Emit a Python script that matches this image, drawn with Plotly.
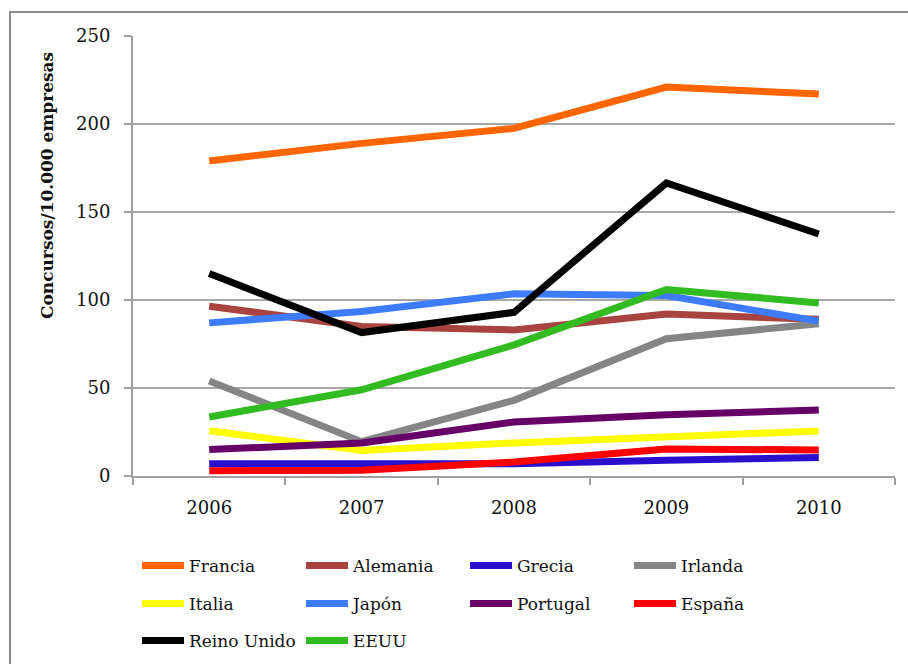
import plotly.graph_objects as go

years = ["2006", "2007", "2008", "2009", "2010"]

francia = [179, 189, 197.5, 221, 217]
alemania = [96.5, 85, 83, 92, 89]
grecia = [7, 7, 7, 9, 10.5]
irlanda = [54, 19.5, 43, 78, 86.5]
italia = [25.7, 14.5, 18.8, 22, 25.6]
japon = [87, 93.5, 103.5, 102.5, 88]
portugal = [15, 18.7, 30.7, 34.8, 37.5]
espana = [3, 3.3, 8, 15.3, 14.8]
reino_unido = [115, 81.5, 93, 166.5, 137.5]
eeuu = [33.5, 49, 74.5, 106, 98.3]

series = [
    ("Francia", francia, "#FF6600", "legend"),
    ("Alemania", alemania, "#A8433F", "legend"),
    ("Grecia", grecia, "#2A10CC", "legend"),
    ("Irlanda", irlanda, "#858585", "legend"),
    ("Italia", italia, "#FFFF00", "legend2"),
    ("Japón", japon, "#3D7BFF", "legend2"),
    ("Portugal", portugal, "#660066", "legend2"),
    ("España", espana, "#FF0000", "legend2"),
    ("Reino Unido", reino_unido, "#000000", "legend3"),
    ("EEUU", eeuu, "#33BB22", "legend3"),
]

FONT = "DejaVu Serif"
L, R, T, B = 133, 13, 36, 188
W, H = 908, 664
PW, PH = W - L - R, H - T - B

def px_x(px):
    return (px - L) / PW

def px_y(py):
    return (H - B - py) / PH

fig = go.Figure()
for name, vals, color, lg in series:
    fig.add_trace(go.Scatter(
        x=years, y=vals, name=name, mode="lines",
        line=dict(color=color, width=7),
        legend=lg,
    ))

leg_common = dict(
    orientation="h", xanchor="left", yanchor="middle",
    font=dict(family=FONT, size=17, color="#111"),
    itemwidth=42, entrywidth=107, entrywidthmode="pixels",
    bgcolor="rgba(0,0,0,0)", traceorder="normal",
    itemclick=False, itemdoubleclick=False,
)

fig.update_layout(
    width=W, height=H,
    margin=dict(l=L, r=R, t=T, b=B, autoexpand=False),
    paper_bgcolor="white", plot_bgcolor="white",
    showlegend=True,
    legend=dict(x=px_x(137), y=px_y(566), **leg_common),
    legend2=dict(x=px_x(137), y=px_y(604), **leg_common),
    legend3=dict(x=px_x(137), y=px_y(641), **leg_common),
    xaxis=dict(
        type="category", range=[-0.5, 4.5],
        showline=True, linecolor="#a0a0a0", linewidth=2,
        ticks="outside", tickson="boundaries", ticklen=7, tickcolor="#a0a0a0", tickwidth=2,
        showgrid=False,
        tickfont=dict(family=FONT, size=18, color="#111"),
        ticklabelstandoff=14,
        fixedrange=True,
    ),
    yaxis=dict(
        range=[0, 250], dtick=50, tick0=0,
        showline=True, linecolor="#a0a0a0", linewidth=2,
        ticks="outside", ticklen=7, tickcolor="#a0a0a0", tickwidth=2,
        showgrid=True, gridcolor="#a8a8a8", gridwidth=2,
        zeroline=False,
        tickfont=dict(family=FONT, size=18, color="#111"),
        ticklabelstandoff=10,
        fixedrange=True,
    ),
    annotations=[dict(
        text="<b>Concursos/10.000 empresas</b>",
        xref="paper", yref="paper", x=px_x(47), y=px_y(186),
        xanchor="center", yanchor="middle", textangle=-90, showarrow=False,
        font=dict(family=FONT, size=17, color="#111"),
    )],
    shapes=[dict(
        type="rect", xref="paper", yref="paper",
        x0=px_x(10), x1=px_x(930), y0=px_y(12), y1=px_y(700),
        line=dict(color="#8c8c8c", width=2), fillcolor="rgba(0,0,0,0)",
        layer="below",
    )],
)

fig.write_html("out.html")
